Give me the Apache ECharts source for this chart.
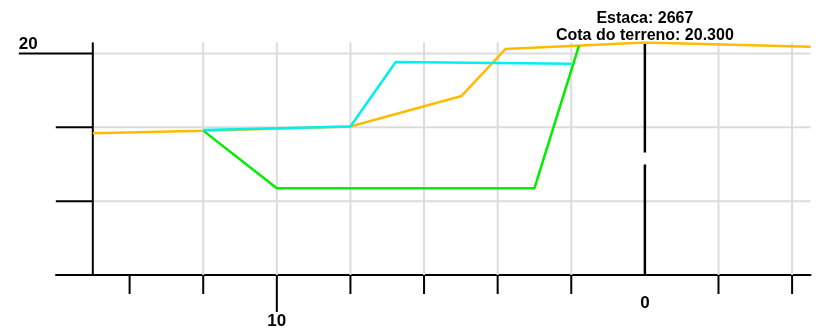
<!DOCTYPE html>
<html><head><meta charset="utf-8">
<script src="https://cdn.jsdelivr.net/npm/echarts@6/dist/echarts.min.js"></script>
<style>html,body{margin:0;padding:0;background:#fff}#c{width:827px;height:330px}</style>
</head><body><div id="c"></div>
<script>
// ---- data ----
const xMin = -16, xMax = 4.5, yMin = 14, yMax = 20.3;
const terrainX = [-15, -12, -8, -4.98, -3.79, 0, 4.5];
const terrainY = [17.84, 17.91, 18.02, 18.85, 20.12, 20.3, 20.18];
const cyanX = [-12, -8, -6.77, -2];
const cyanY = [17.93, 18.02, 19.77, 19.72];
const greenX = [-12, -10, -3, -1.79];
const greenY = [17.91, 16.35, 16.35, 20.21];
const gridX = [-12, -10, -8, -6, -4, -2, 2, 4];
const gridY = [16, 18, 20];
const tickX = [-14, -12, -10, -8, -6, -4, -2, 2, 4];
const tickY = [16, 18, 20];
const xLabelVals = [-10, 0];
const xLabelText = ['10', '0'];
const yLabelVals = [20];
const yLabelText = ['20'];
const yAxisAt = -15;
const centerAt = 0;
const titleLines = ['Estaca: 2667', 'Cota do terreno: 20.300'];

// ---- chart ----
const FONT = '"Liberation Sans", Arial, sans-serif';
const zip = (a, b) => a.map((v, i) => [v, b[i]]);
const chart = echarts.init(document.getElementById('c'), null, {renderer: 'canvas'});

function seg(p1, p2, stroke, w, dash) {
  return {type: 'line', shape: {x1: p1[0], y1: p1[1], x2: p2[0], y2: p2[1]},
    style: {stroke: stroke, lineWidth: w, lineDash: dash || null}};
}

const option = {
  animation: false,
  backgroundColor: '#fff',
  grid: {left: 56, right: 16.5, top: 42.4, bottom: 55},
  xAxis: {type: 'value', min: xMin, max: xMax, interval: 2,
    axisLine: {show: true, onZero: false, lineStyle: {color: '#000', width: 2}},
    axisTick: {show: false}, axisLabel: {show: false}, splitLine: {show: false}},
  yAxis: {type: 'value', min: yMin, max: yMax, interval: 2, show: false,
    splitLine: {show: false}},
  series: [
    { // vertical grid lines
      type: 'custom', silent: true, z: 1,
      data: gridX.map(v => [v, yMin]),
      renderItem: (p, api) => seg(api.coord([api.value(0), yMin]), api.coord([api.value(0), yMax]), '#dcdcdc', 2)
    },
    { // horizontal grid lines
      type: 'custom', silent: true, z: 1,
      data: gridY.map(v => [yAxisAt, v]),
      renderItem: (p, api) => seg(api.coord([yAxisAt, api.value(1)]), api.coord([xMax, api.value(1)]), '#dcdcdc', 2)
    },
    { // y axis line + center line
      type: 'custom', silent: true, z: 3,
      data: [[yAxisAt, yMin], [centerAt, yMin]],
      renderItem: (p, api) => {
        const x = api.value(0);
        const a = api.coord([x, yMin]), b = api.coord([x, yMax]);
        if (x === centerAt) {
          return {type: 'line', shape: {x1: b[0], y1: b[1], x2: a[0], y2: a[1]},
            style: {stroke: '#000', lineWidth: 2.5, lineDash: [110, 12]}};
        }
        return seg(a, b, '#000', 2);
      }
    },
    { // x ticks
      type: 'custom', silent: true, z: 3,
      data: tickX.map(v => [v, yMin]),
      renderItem: (p, api) => {
        const x = api.value(0);
        const a = api.coord([x, yMin]);
        const len = xLabelVals.indexOf(x) >= 0 ? 37 : 19;
        return seg(a, [a[0], a[1] + len], '#000', 2);
      }
    },
    { // y ticks
      type: 'custom', silent: true, z: 3,
      data: tickY.map(v => [yAxisAt, v]),
      renderItem: (p, api) => {
        const y = api.value(1);
        const a = api.coord([yAxisAt, y]);
        const len = yLabelVals.indexOf(y) >= 0 ? 74 : 37;
        return seg(a, [a[0] - len, a[1]], '#000', 2);
      }
    },
    { // x labels
      type: 'custom', silent: true, z: 4,
      data: xLabelVals.map((v, i) => [v, yMin, i]),
      renderItem: (p, api) => {
        const x = api.value(0);
        const a = api.coord([x, yMin]);
        const off = tickX.indexOf(x) >= 0 ? 46 : 28;
        return {type: 'text', style: {x: a[0], y: a[1] + off, text: xLabelText[api.value(2)],
          fill: '#000', font: 'bold 17px ' + FONT, align: 'center', verticalAlign: 'middle'}};
      }
    },
    { // y labels
      type: 'custom', silent: true, z: 4,
      data: yLabelVals.map((v, i) => [yAxisAt, v, i]),
      renderItem: (p, api) => {
        const a = api.coord([yAxisAt, api.value(1)]);
        return {type: 'text', style: {x: a[0] - 74, y: a[1] - 0.5, text: yLabelText[api.value(2)],
          fill: '#000', font: 'bold 17px ' + FONT, align: 'left', verticalAlign: 'bottom'}};
      }
    },
    { // title text over the center line
      type: 'custom', silent: true, z: 4,
      data: titleLines.map((t, i) => [centerAt, yMax, i]),
      renderItem: (p, api) => {
        const a = api.coord([centerAt, yMax]);
        const i = api.value(2);
        return {type: 'text', style: {x: a[0], y: a[1] - (titleLines.length - i) * 17 + 10, text: titleLines[i],
          fill: '#000', font: 'bold 16px ' + FONT, align: 'center', verticalAlign: 'middle'}};
      }
    },
    {type: 'line', data: zip(terrainX, terrainY), showSymbol: false, symbol: 'none', z: 5,
      lineStyle: {color: '#ffbb00', width: 2.5}},
    {type: 'line', data: zip(greenX, greenY), showSymbol: false, symbol: 'none', z: 6,
      lineStyle: {color: '#00ee00', width: 2.5}},
    {type: 'line', data: zip(cyanX, cyanY), showSymbol: false, symbol: 'none', z: 7,
      lineStyle: {color: '#00f0f0', width: 2.5}}
  ]
};
chart.setOption(option);
</script>
</body></html>
